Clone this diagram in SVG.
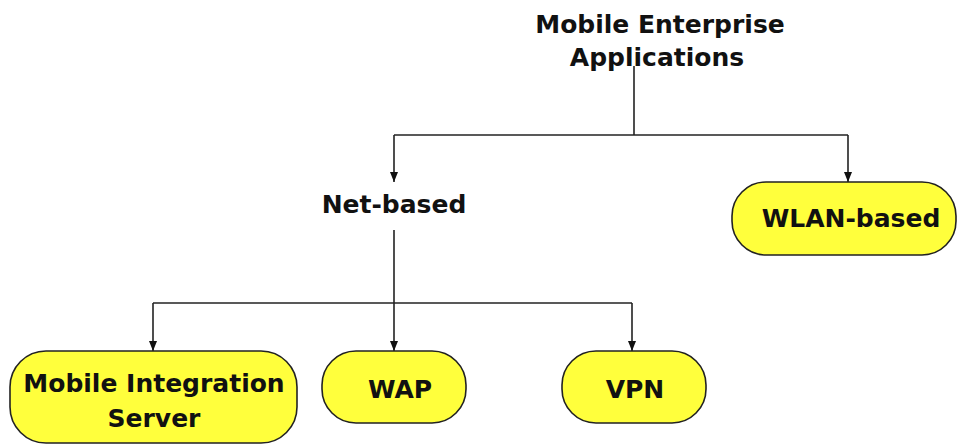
<svg xmlns="http://www.w3.org/2000/svg" width="957" height="445" viewBox="0 0 957 445">
<style>
.node{fill:#ffff3c;stroke:#222;stroke-width:1.6}
.t{font-family:"DejaVu Sans",sans-serif;font-weight:bold;font-size:25px;fill:#111;text-anchor:middle}
.c{fill:none;stroke:#222;stroke-width:1.6}
</style>
<defs>
<marker id="ah" viewBox="0 0 10 8" refX="10" refY="4" markerWidth="10" markerHeight="8" markerUnits="userSpaceOnUse" orient="auto">
<path d="M0,0 L10,4 L0,8 Z" fill="#111"/>
</marker>
</defs>
<rect width="957" height="445" fill="#fff"/>
<g id="connectors">
<path class="c" d="M634,66 V135"/>
<path class="c" d="M394,135 H848"/>
<path class="c" d="M394,135 V182" marker-end="url(#ah)"/>
<path class="c" d="M848,135 V182" marker-end="url(#ah)"/>
<path class="c" d="M394,230 V351" marker-end="url(#ah)"/>
<path class="c" d="M153,303 H632"/>
<path class="c" d="M153,303 V351" marker-end="url(#ah)"/>
<path class="c" d="M632,303 V351" marker-end="url(#ah)"/>
</g>
<g id="root">
<text class="t" x="660" y="33">Mobile Enterprise</text>
<text class="t" x="657" y="66">Applications</text>
</g>
<g id="net-based">
<text class="t" x="394" y="213">Net-based</text>
</g>
<g id="wlan-based">
<rect class="node" x="732" y="182" width="224" height="73" rx="34" ry="34"/>
<text class="t" x="851" y="227">WLAN-based</text>
</g>
<g id="mis">
<rect class="node" x="10" y="351" width="287" height="92" rx="36" ry="36"/>
<text class="t" x="154" y="392">Mobile Integration</text>
<text class="t" x="154" y="427">Server</text>
</g>
<g id="wap">
<rect class="node" x="322" y="351" width="144" height="72" rx="34" ry="34"/>
<text class="t" x="400" y="398">WAP</text>
</g>
<g id="vpn">
<rect class="node" x="562" y="351" width="144" height="72" rx="34" ry="34"/>
<text class="t" x="635" y="398">VPN</text>
</g>
</svg>
